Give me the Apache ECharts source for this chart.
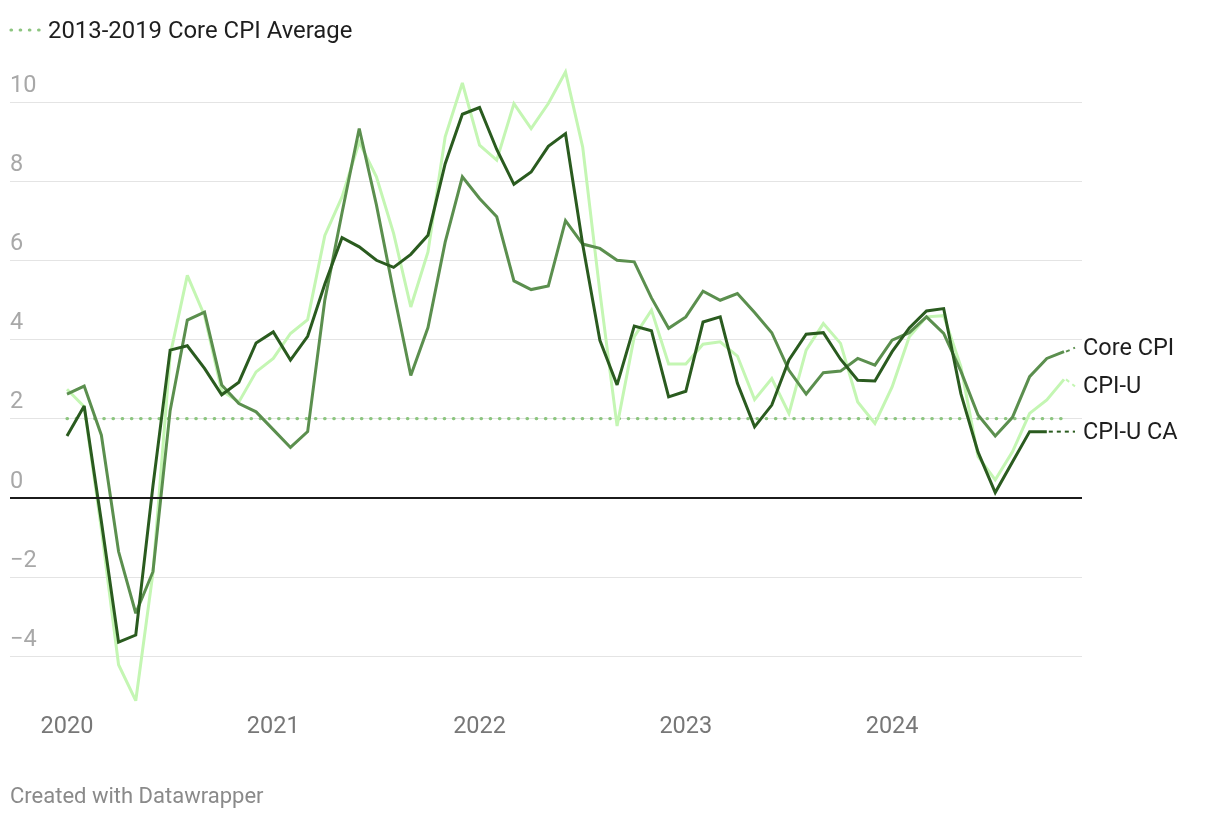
<!DOCTYPE html>
<html>
<head>
<meta charset="utf-8">
<script src="https://cdn.jsdelivr.net/npm/echarts@6/dist/echarts.min.js"></script>
<style>
html,body{margin:0;padding:0;background:#fff;}
#chart{width:1220px;height:818px;}
</style>
</head>
<body>
<div id="chart"></div>
<script>
// ---- DATA (monthly, Jan 2020 onward) ----
const startYear = 2020;
const yearLabels = ['2020', '2021', '2022', '2023', '2024'];
const yTicks = [-4, -2, 0, 2, 4, 6, 8, 10];

const coreCPI = [
  2.62, 2.82, 1.58, -1.36, -2.92, -1.87, 2.2, 4.49, 4.69, 2.85, 2.38, 2.17,
  1.72, 1.27, 1.67, 5.0, 7.2, 9.33, 7.4, 5.2, 3.09, 4.3, 6.46, 8.11,
  7.56, 7.1, 5.48, 5.26, 5.35, 7.0, 6.41, 6.3, 6.0, 5.96, 5.05, 4.28,
  4.57, 5.22, 4.99, 5.16, 4.68, 4.17, 3.22, 2.62, 3.16, 3.2, 3.52, 3.35,
  3.98, 4.17, 4.57, 4.15, 3.2, 2.09, 1.56, 2.03, 3.06, 3.52, 3.69
];
const cpiU = [
  2.74, 2.3, -0.8, -4.22, -5.13, -1.9, 3.6, 5.62, 4.6, 2.7, 2.42, 3.18,
  3.52, 4.15, 4.5, 6.63, 7.6, 8.99, 8.11, 6.68, 4.82, 6.21, 9.12, 10.48,
  8.91, 8.53, 9.96, 9.33, 9.96, 10.76, 8.86, 5.2, 1.81, 4.07, 4.74, 3.38,
  3.38, 3.88, 3.94, 3.58, 2.48, 3.01, 2.13, 3.73, 4.4, 3.9, 2.42, 1.88,
  2.8, 4.07, 4.57, 4.6, 3.31, 1.04, 0.45, 1.16, 2.13, 2.47, 2.99
];
const cpiUCA = [
  1.56, 2.32, -0.6, -3.65, -3.47, 0.3, 3.73, 3.84, 3.27, 2.6, 2.92, 3.91,
  4.19, 3.48, 4.08, 5.4, 6.57, 6.34, 6.0, 5.82, 6.15, 6.63, 8.44, 9.69,
  9.86, 8.8, 7.92, 8.23, 8.88, 9.2, 6.4, 3.98, 2.85, 4.34, 4.22, 2.55,
  2.69, 4.44, 4.57, 2.89, 1.79, 2.34, 3.48, 4.13, 4.17, 3.5, 2.97, 2.95,
  3.69, 4.29, 4.72, 4.78, 2.63, 1.15, 0.13, 0.9, 1.67, 1.67
];
const coreAvg2013to2019 = 2.0;

const seriesNames = ['CPI-U', 'Core CPI', 'CPI-U CA'];
const avgName = '2013-2019 Core CPI Average';

// ---- STYLE ----
const colors = { 'CPI-U': '#c4f6b3', 'Core CPI': '#5b8f4e', 'CPI-U CA': '#2a5b1f' };
const avgColor = '#8cc57f';
const FONT = 'Roboto, "Noto Sans", sans-serif';

const nMonths = Math.max(coreCPI.length, cpiU.length, cpiUCA.length);
const toPairs = arr => arr.map((v, i) => [i, v]);

const chart = echarts.init(document.getElementById('chart'), null, { renderer: 'canvas' });

const lineSeries = (name, arr, z) => ({
  name, type: 'line', data: toPairs(arr), symbol: 'none', clip: false, z,
  lineStyle: { color: colors[name], width: 3, join: 'miter', miterLimit: 3 },
  emphasis: { disabled: true }, animation: false
});

chart.setOption({
  animation: false,
  grid: { left: 10, right: 138, top: 102, bottom: 162, containLabel: false },
  xAxis: {
    type: 'value', min: -3.316, max: 59.047,
    axisLine: { show: false }, axisTick: { show: false }, splitLine: { show: false },
    axisLabel: {
      customValues: yearLabels.map((_, i) => i * 12),
      formatter: v => yearLabels[Math.round(v / 12)] || '',
      color: '#777', fontSize: 23.5, fontFamily: FONT, margin: 59
    }
  },
  yAxis: {
    type: 'value', min: yTicks[0], max: yTicks[yTicks.length - 1], interval: 2,
    axisLine: { show: false }, axisTick: { show: false },
    splitLine: { lineStyle: { color: '#e4e4e4', width: 1 } },
    axisLabel: {
      inside: true, margin: 0, align: 'left', verticalAlign: 'bottom',
      padding: [0, 0, 4, 0], color: '#a8a8a8', fontSize: 23.5, fontFamily: FONT,
      formatter: v => (v < 0 ? '\u2212' + Math.abs(v) : String(v))
    }
  },
  series: [
    {
      name: avgName, type: 'line', symbol: 'none', z: 1, clip: false,
      data: [[0, coreAvg2013to2019], [nMonths - 1, coreAvg2013to2019]],
      lineStyle: { color: avgColor, width: 3.2, type: [0.5, 8.7], cap: 'round' },
      markLine: {
        silent: true, symbol: 'none', animation: false,
        label: { show: false },
        lineStyle: { color: '#1b1b1b', width: 2, type: 'solid' },
        data: [{ yAxis: 0 }]
      }
    },
    lineSeries('CPI-U', cpiU, 2),
    lineSeries('Core CPI', coreCPI, 3),
    lineSeries('CPI-U CA', cpiUCA, 4)
  ]
});

// ---- end labels with dashed connectors, legend, footer ----
const labelDy = { 'Core CPI': -4, 'CPI-U': 7, 'CPI-U CA': 0 };
const seriesData = { 'Core CPI': coreCPI, 'CPI-U': cpiU, 'CPI-U CA': cpiUCA };
const graphics = [];
Object.keys(seriesData).forEach(name => {
  const arr = seriesData[name];
  const p = chart.convertToPixel({ gridIndex: 0 }, [arr.length - 1, arr[arr.length - 1]]);
  const ly = p[1] + labelDy[name];
  graphics.push({
    type: 'line', silent: true, z: 10,
    shape: { x1: p[0] + 2, y1: p[1], x2: 1075, y2: ly },
    style: { stroke: colors[name], lineWidth: 2, lineDash: [4, 4] }
  });
  graphics.push({
    type: 'text', silent: true, z: 10, x: 1083, y: ly + 1,
    style: { text: name, fill: '#1e1e1e', font: '23.5px ' + FONT, textAlign: 'left', textVerticalAlign: 'middle' }
  });
});
graphics.push({
  type: 'line', silent: true,
  shape: { x1: 11, y1: 30, x2: 42, y2: 30 },
  style: { stroke: avgColor, lineWidth: 3.2, lineDash: [0.5, 8.7], lineCap: 'round' }
});
graphics.push({
  type: 'text', silent: true, x: 48, y: 32,
  style: { text: avgName, fill: '#1e1e1e', font: '23.9px ' + FONT, textAlign: 'left', textVerticalAlign: 'middle' }
});
graphics.push({
  type: 'text', silent: true, x: 10, y: 797,
  style: { text: 'Created with Datawrapper', fill: '#8a8a8a', font: '22px ' + FONT, textAlign: 'left', textVerticalAlign: 'middle' }
});
chart.setOption({ graphic: graphics });
</script>
</body>
</html>
